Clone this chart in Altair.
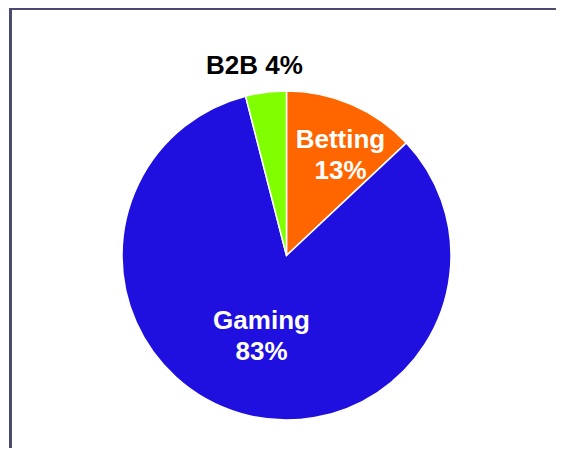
import altair as alt
import pandas as pd

categories = ["Betting", "Gaming", "B2B"]
shares = [13, 83, 4]
labels = ["Betting\n13%", "Gaming\n83%", "B2B 4%"]
colors = ["#FF6600", "#2010E0", "#80FF00"]

df = pd.DataFrame({"cat": categories, "value": shares, "label": labels,
                   "idx": list(range(len(categories)))})

CX, CY = 278.5, 247.5
FONT = "Liberation Sans"

base = alt.Chart(df).encode(
    theta=alt.Theta("value:Q", stack=True, scale=alt.Scale(domain=[0, 100])),
    order=alt.Order("idx:Q"),
)

pie = base.mark_arc(outerRadius=164.5, stroke="white", strokeWidth=1.5).encode(
    x=alt.value(CX), y=alt.value(CY),
    color=alt.Color("cat:N", scale=alt.Scale(domain=categories, range=colors), legend=None),
)

def lab(cat, radius, color, dx=0, dy=0):
    return base.mark_text(radius=radius, font=FONT, fontSize=26, fontWeight="bold",
                          color=color, lineBreak="\n", lineHeight=31,
                          dx=dx, dy=dy, align="center", baseline="middle").encode(
        x=alt.value(CX), y=alt.value(CY),
        text=alt.condition(f"datum.cat == '{cat}'", "label:N", alt.value("")),
    )

t_bet = lab("Betting", 112, "white", dx=9.5, dy=-13)
t_gam = lab("Gaming", 86, "white", dx=-1, dy=-17.5)
t_b2b = lab("B2B", 192, "black", dx=-8, dy=1)

frame_top = alt.Chart(df).mark_rule(color="#4a4a6e", strokeWidth=2.5).encode(
    x=alt.value(2), x2=alt.value(548), y=alt.value(0.5))
frame_left = alt.Chart(df).mark_rule(color="#4a4a6e", strokeWidth=2.5).encode(
    x=alt.value(2.5), y=alt.value(0), y2=alt.value(440))

chart = alt.layer(pie, t_bet, t_gam, t_b2b, frame_top, frame_left).properties(
    width=548, height=440,
    autosize=alt.AutoSizeParams(type="none"),
    padding=0,
).configure_view(stroke=None)

chart.save("out.html", embed_options={"renderer": "svg", "actions": False})
